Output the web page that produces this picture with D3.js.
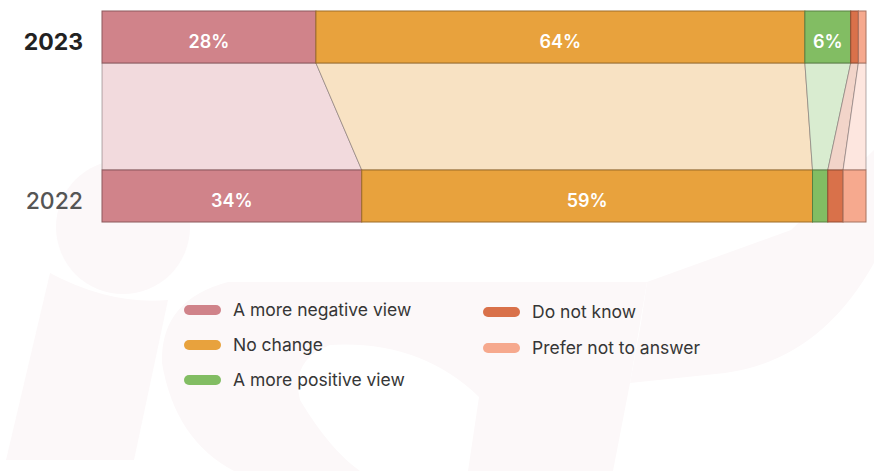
<!DOCTYPE html>
<html>
<head>
<meta charset="utf-8">
<script src="https://cdn.jsdelivr.net/npm/d3@7"></script>
<style>
  html, body { margin: 0; padding: 0; background: #ffffff; }
  svg { display: block; font-family: Inter, "Noto Sans", sans-serif; }
</style>
</head>
<body>
<svg id="chart" width="874" height="471"></svg>
<script>
// Survey years (top to bottom) and answer categories
const years = ["2023", "2022"];
const categories = ["A more negative view", "No change", "A more positive view", "Do not know", "Prefer not to answer"];

// Share of respondents (%) per category, same order as categories
const values2023 = [28, 64, 6, 1, 1];
const values2022 = [34, 59, 2, 2, 3];

// Segment colours and the lighter tints used for the connecting bands
const barColors = ["#d0838a", "#e8a23d", "#82bd63", "#d9714a", "#f6a98e"];
const bandColors = ["#f2dadd", "#f8e2c3", "#d9ecd0", "#f2d4c9", "#fde6df"];

// Legend layout: two columns
const legendColumns = [[0, 1, 2], [3, 4]];

const svg = d3.select("#chart");

// Faint brand watermark behind the chart
const wm = svg.append("g").attr("fill", "#fcf8f9");
wm.append("circle").attr("cx", 123).attr("cy", 227).attr("r", 67);
wm.append("path").attr("d", "M50,273 Q110,305 168,300 L134,460 L6,460 Z");
wm.append("path").attr("d", "M228,282 L647,282 L630,383 L613,471 L468,471 L479,397 Q420,340 330,345 Q290,360 300,400 Q330,450 360,471 L234,471 Q175,440 162,363 Q160,300 228,282 Z");
wm.append("path").attr("d", "M647,282 L791,230 L874,150 L874,263 Q820,360 725,373 L630,383 L641,323 Z");

const data = { "2023": values2023, "2022": values2022 };

const x = d3.scaleLinear().domain([0, 100]).range([102, 866]);
const y = d3.scaleBand().domain(years).range([11, 222]).paddingInner(0.673);

// Stack each year into [start, end] segments
function segments(vals) {
  let acc = 0;
  return vals.map((v, i) => { const s = acc; acc += v; return { i, v, s, e: acc }; });
}
const segs = {};
years.forEach(yr => segs[yr] = segments(data[yr]));

// Connecting bands between the two bars
const upper = segs["2023"], lower = segs["2022"];
const yUpperBottom = y("2023") + y.bandwidth();
const yLowerTop = y("2022");
svg.append("g").selectAll("path")
  .data(categories.map((c, i) => i))
  .join("path")
  .attr("d", i => `M${x(upper[i].s)},${yUpperBottom} L${x(upper[i].e)},${yUpperBottom} L${x(lower[i].e)},${yLowerTop} L${x(lower[i].s)},${yLowerTop} Z`)
  .attr("fill", i => bandColors[i])
  .attr("stroke", "#6f6363")
  .attr("stroke-opacity", 0.75)
  .attr("stroke-width", 0.7);

// Stacked bars
years.forEach(yr => {
  const g = svg.append("g");
  g.selectAll("rect")
    .data(segs[yr])
    .join("rect")
    .attr("x", d => x(d.s))
    .attr("y", y(yr))
    .attr("width", d => x(d.e) - x(d.s))
    .attr("height", y.bandwidth())
    .attr("fill", d => barColors[d.i])
    .attr("stroke", d => d3.color(barColors[d.i]).darker(1.1))
    .attr("stroke-width", 1);
  g.selectAll("text")
    .data(segs[yr].filter(d => d.v >= 5))
    .join("text")
    .attr("x", d => (x(d.s) + x(d.e)) / 2)
    .attr("y", y(yr) + y.bandwidth() / 2 + 5)
    .attr("dy", "0.35em")
    .attr("text-anchor", "middle")
    .attr("fill", "#ffffff")
    .attr("font-size", 18)
    .attr("font-weight", 600)
    .text(d => d.v + "%");
});

// Year labels
svg.append("g").selectAll("text")
  .data(years)
  .join("text")
  .attr("x", 83)
  .attr("y", d => y(d) + y.bandwidth() / 2 + 5)
  .attr("dy", "0.36em")
  .attr("text-anchor", "end")
  .attr("font-size", 23)
  .attr("font-weight", (d, i) => i === 0 ? 700 : 500)
  .attr("fill", (d, i) => i === 0 ? "#222222" : "#555555")
  .text(d => d);

// Legend
const colX = [184, 483];
const rowY = [[310, 345, 380], [312, 348]];
legendColumns.forEach((col, ci) => {
  col.forEach((k, ri) => {
    const g = svg.append("g").attr("transform", `translate(${colX[ci]},${rowY[ci][ri]})`);
    g.append("rect")
      .attr("x", 0).attr("y", -5)
      .attr("width", 37).attr("height", 10)
      .attr("rx", 5)
      .attr("fill", barColors[k]);
    g.append("text")
      .attr("x", 49)
      .attr("dy", "0.35em")
      .attr("font-size", 17.5)
      .attr("font-weight", 400)
      .attr("fill", "#363636")
      .text(categories[k]);
  });
});
</script>
</body>
</html>
